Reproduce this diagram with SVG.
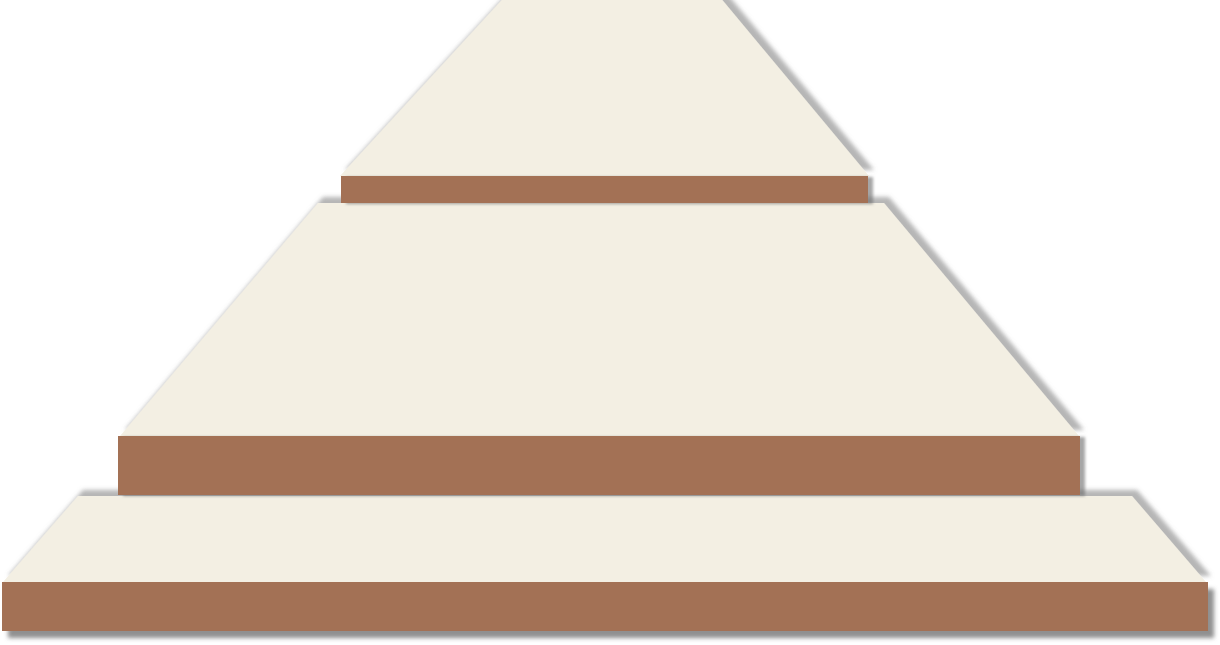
<svg xmlns="http://www.w3.org/2000/svg" width="1220" height="645" viewBox="0 0 1220 645">
<style>
.trap{fill:#F3EFE3;filter:url(#shT);}
.bar{fill:#A37154;}
.bs{filter:url(#shB);}
.bb{filter:url(#shB3);}
</style>
<defs>
<filter id="shT" x="-10%" y="-20%" width="120%" height="140%">
<feDropShadow dx="5" dy="-6" stdDeviation="2" flood-color="#7a7a7a" flood-opacity="0.55"/>
</filter>
<filter id="shB" x="-10%" y="-40%" width="120%" height="180%">
<feDropShadow dx="5" dy="1" stdDeviation="1.5" flood-color="#6a6a6a" flood-opacity="0.6"/>
</filter>
<filter id="shB3" x="-10%" y="-40%" width="120%" height="180%">
<feDropShadow dx="6" dy="7" stdDeviation="2" flood-color="#6a6a6a" flood-opacity="0.75"/>
</filter>
</defs>
<rect width="1220" height="645" fill="#FFFFFF"/>
<g id="tier3">
<polygon class="trap" points="78,496 1132,496 1206,582 3,582"/>
<rect class="bar bb" x="2" y="582" width="1206" height="49"/>
</g>
<g id="tier2">
<polygon class="trap" points="318,203 884,203 1079,436 120,436"/>
<rect class="bar bs" x="118" y="436" width="962" height="59"/>
</g>
<g id="tier1">
<polygon class="trap" points="511,-10 714,-10 869,176 340,176"/>
<rect class="bar bs" x="341" y="176" width="527" height="27"/>
</g>
<g id="connectors"></g>
</svg>
